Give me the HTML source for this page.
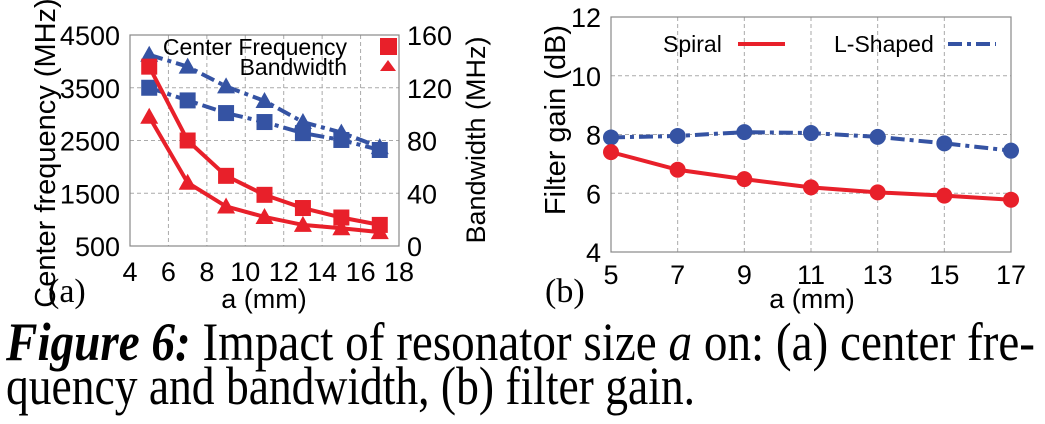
<!DOCTYPE html>
<html><head><meta charset="utf-8"><style>
html,body{margin:0;padding:0;background:#fff;width:1045px;height:424px;overflow:hidden}
svg text{font-family:"Liberation Sans",sans-serif}
</style></head><body>
<svg id="fig" width="1045" height="424" viewBox="0 0 1045 424" xmlns="http://www.w3.org/2000/svg">
<g id="ga"></g>
<g id="gb"></g>
<text x="6" y="360" font-size="54" textLength="1029" lengthAdjust="spacingAndGlyphs" style="font-family:'Liberation Serif',serif"><tspan font-weight="bold" font-style="italic">Figure 6:</tspan> Impact of resonator size <tspan font-style="italic">a</tspan> on: (a) center fre-</text>
<text x="6" y="404" font-size="54" textLength="689" lengthAdjust="spacingAndGlyphs" style="font-family:'Liberation Serif',serif">quency and bandwidth, (b) filter gain.</text>
</svg>
<script>
const aX=[5,7,9,11,13,15,17];
const cfSpiral=[3900,2500,1830,1470,1220,1040,900];
const bwSpiral=[98,48,30,22,16,13.5,10.5];
const cfL=[3500,3260,3020,2850,2640,2510,2320];
const bwL=[145,136,121,110,94,86,75];
const aXTicks=[4,6,8,10,12,14,16,18];
const aLTicks=[500,1500,2500,3500,4500];
const aRTicks=[0,40,80,120,160];
const bX=[5,7,9,11,13,15,17];
const gainSpiral=[7.4,6.8,6.48,6.2,6.03,5.92,5.78];
const gainL=[7.9,7.95,8.08,8.05,7.92,7.7,7.45];
const bYTicks=[4,6,8,10,12];
const RED="#e8202a",BLUE="#3553a3";
const NS="http://www.w3.org/2000/svg";
function mk(p,t,a,txt){const e=document.createElementNS(NS,t);for(const k in a)e.setAttribute(k,a[k]);if(txt!==undefined)e.textContent=txt;p.appendChild(e);return e;}
// chart a
const ga=document.getElementById('ga');
const ax0=130,ax1=399,ay0=35,ay1=246;
const xa=v=>ax0+(v-4)/14*(ax1-ax0);
const yl=v=>ay1-(v-500)/4000*(ay1-ay0);
const yr=v=>ay1-v/160*(ay1-ay0);
aXTicks.forEach(t=>{if(t>4&&t<18){let l=mk(ga,'line',{x1:xa(t),x2:xa(t),y1:ay0,y2:ay1,stroke:'#aaa','stroke-dasharray':'4,3'});}
 let e=mk(ga,'text',{x:xa(t),y:281,'font-size':27,'text-anchor':'middle'},t);});
aLTicks.forEach(t=>{if(t>500&&t<4500){let l=mk(ga,'line',{x1:ax0,x2:ax1,y1:yl(t),y2:yl(t),stroke:'#aaa','stroke-dasharray':'4,3'});}
 let e=mk(ga,'text',{x:120,y:yl(t)+10,'font-size':27,'text-anchor':'end'},t);});
aRTicks.forEach(t=>{let e=mk(ga,'text',{x:407,y:yr(t)+10,'font-size':27},t);});
let fa=mk(ga,'rect',{x:ax0,y:ay0,width:ax1-ax0,height:ay1-ay0,fill:'none',stroke:'#888','stroke-width':1.2});

function series(g,xs,ys,fx,fy,col,dash,marker,name){
 const pts=xs.map((x,i)=>fx(x)+','+fy(ys[i])).join(' ');
 const pl=mk(g,'polyline',{points:pts,fill:'none',stroke:col,'stroke-width':4,'stroke-dasharray':dash||'none'});
 
 xs.forEach((x,i)=>{const cx=fx(x),cy=fy(ys[i]);let m;
  if(marker==='sq')m=mk(g,'rect',{x:cx-8,y:cy-8,width:16,height:16,fill:col});
  else if(marker==='tri')m=mk(g,'polygon',{points:`${cx},${cy-9} ${cx-9},${cy+7} ${cx+9},${cy+7}`,fill:col});
  else m=mk(g,'circle',{cx:cx,cy:cy,r:8,fill:col});
  });
}
series(ga,aX,bwL,xa,yr,BLUE,'14,5,4,5','tri','bandwidth-lshaped');
series(ga,aX,cfL,xa,yl,BLUE,'14,5,4,5','sq','center-freq-lshaped');
series(ga,aX,bwSpiral,xa,yr,RED,null,'tri','bandwidth-spiral');
series(ga,aX,cfSpiral,xa,yl,RED,null,'sq','center-freq-spiral');
let t;
t=mk(ga,'text',{x:347,y:55,'font-size':23,'text-anchor':'end'},'Center Frequency');
t=mk(ga,'rect',{x:380,y:38,width:17,height:17,fill:RED});
t=mk(ga,'text',{x:347,y:75,'font-size':23,'text-anchor':'end'},'Bandwidth');
t=mk(ga,'polygon',{points:'388,60 380,71 396,71',fill:RED});
t=mk(ga,'text',{x:55,y:153,'font-size':29,'text-anchor':'middle',transform:'rotate(-90 55 153)'},'Center frequency (MHz)');
t=mk(ga,'text',{x:485,y:140,'font-size':27,'text-anchor':'middle',transform:'rotate(-90 485 140)'},'Bandwidth (MHz)');
t=mk(ga,'text',{x:264,y:308,'font-size':27,'text-anchor':'middle'},'a (mm)');
t=mk(ga,'text',{x:48,y:302,'font-size':34,style:"font-family:'Liberation Serif',serif"},'(a)');
// chart b
const gb=document.getElementById('gb');
const bx0=611,bx1=1011,by0=17,by1=252;
const xb=v=>bx0+(v-5)/12*(bx1-bx0);
const yb=v=>by1-(v-4)/8*(by1-by0);
bX.forEach(x=>{if(x>5&&x<17){let l=mk(gb,'line',{x1:xb(x),x2:xb(x),y1:by0,y2:by1,stroke:'#aaa','stroke-dasharray':'4,3'});}
 let e=mk(gb,'text',{x:xb(x),y:284,'font-size':27,'text-anchor':'middle'},x);});
bYTicks.forEach(v=>{if(v>4&&v<12){let l=mk(gb,'line',{x1:bx0,x2:bx1,y1:yb(v),y2:yb(v),stroke:'#aaa','stroke-dasharray':'4,3'});}
 let e=mk(gb,'text',{x:601,y:yb(v)+10,'font-size':27,'text-anchor':'end'},v);});
let fb=mk(gb,'rect',{x:bx0,y:by0,width:bx1-bx0,height:by1-by0,fill:'none',stroke:'#888','stroke-width':1.2});

series(gb,bX,gainL,xb,yb,BLUE,'14,5,4,5','circ','gain-lshaped');
series(gb,bX,gainSpiral,xb,yb,RED,null,'circ','gain-spiral');
t=mk(gb,'text',{x:663,y:52,'font-size':23},'Spiral');
t=mk(gb,'line',{x1:738,x2:785,y1:44,y2:44,stroke:RED,'stroke-width':4});
t=mk(gb,'text',{x:834,y:52,'font-size':23},'L-Shaped');
t=mk(gb,'line',{x1:948,x2:996,y1:44,y2:44,stroke:BLUE,'stroke-width':4,'stroke-dasharray':'14,5,4,5'});
t=mk(gb,'text',{x:565,y:120,'font-size':29,'text-anchor':'middle',transform:'rotate(-90 565 120)'},'Filter gain (dB)');
t=mk(gb,'text',{x:812,y:308,'font-size':27,'text-anchor':'middle'},'a (mm)');
t=mk(gb,'text',{x:545,y:302,'font-size':34,style:"font-family:'Liberation Serif',serif"},'(b)');
</script>
</body></html>
